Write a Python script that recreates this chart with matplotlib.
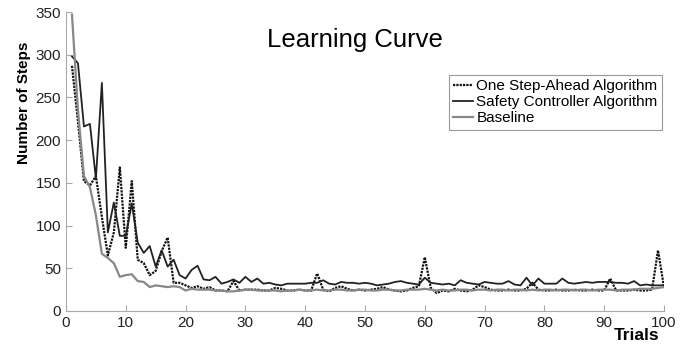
import matplotlib
matplotlib.use('Agg')
import matplotlib.pyplot as plt
import numpy as np

plt.rcParams['font.family'] = ['Liberation Sans', 'DejaVu Sans']

trials = np.arange(1, 101)

one_step = [287, 222, 152, 147, 158, 110, 65, 92, 168, 74,
            152, 60, 56, 42, 47, 70, 86, 33, 33, 30,
            27, 29, 26, 28, 24, 24, 23, 35, 24, 25,
            25, 25, 24, 24, 27, 26, 24, 24, 25, 24,
            24, 44, 25, 23, 27, 29, 26, 24, 25, 24,
            25, 26, 28, 25, 24, 23, 24, 27, 29, 63,
            27, 21, 24, 23, 26, 24, 23, 25, 30, 28,
            25, 24, 24, 25, 24, 24, 26, 33, 25, 24,
            24, 25, 24, 24, 25, 24, 24, 25, 24, 24,
            38, 24, 24, 24, 25, 24, 24, 25, 71, 28]

safety = [298, 290, 216, 219, 155, 267, 92, 127, 88, 88,
          126, 80, 68, 76, 52, 71, 52, 60, 42, 38,
          48, 53, 37, 36, 40, 32, 34, 37, 33, 40,
          34, 38, 32, 33, 31, 30, 32, 32, 32, 32,
          33, 33, 36, 32, 31, 34, 33, 33, 32, 33,
          32, 30, 31, 32, 34, 35, 33, 32, 31, 39,
          33, 32, 31, 32, 30, 36, 33, 32, 31, 34,
          33, 32, 32, 35, 31, 30, 39, 30, 38, 32,
          32, 32, 38, 33, 32, 33, 34, 33, 34, 34,
          34, 33, 33, 32, 35, 30, 31, 30, 30, 30]

baseline = [347, 235, 158, 145, 112, 67, 62, 56, 40, 42,
            43, 35, 34, 28, 30, 29, 28, 29, 28, 24,
            26, 25, 25, 25, 24, 24, 23, 23, 24, 25,
            25, 24, 24, 24, 24, 23, 24, 24, 25, 24,
            24, 25, 24, 24, 25, 25, 24, 24, 25, 25,
            24, 24, 25, 25, 24, 24, 25, 25, 25, 26,
            25, 24, 25, 24, 24, 25, 25, 24, 25, 25,
            24, 25, 25, 24, 25, 25, 24, 25, 24, 25,
            25, 24, 25, 25, 24, 25, 25, 24, 25, 25,
            25, 24, 25, 25, 25, 26, 26, 26, 27, 28]

fig = plt.figure(figsize=(6.96, 3.45), dpi=100)
ax = fig.add_axes([66/696, 1-311/345, (664-66)/696, (311-12)/345])

ax.plot(trials, one_step, color='#111111', lw=1.6, ls=(0, (1, 0.5)),
        label='One Step-Ahead Algorithm')
ax.plot(trials, safety, color='#222222', lw=1.3, label='Safety Controller Algorithm')
ax.plot(trials, baseline, color='#888888', lw=1.6, label='Baseline')

ax.set_xlim(0, 100)
ax.set_ylim(0, 350)
ax.set_xticks(range(0, 101, 10))
ax.set_yticks(range(0, 351, 50))
for s in ['top', 'right']:
    ax.spines[s].set_visible(False)
for s in ['left', 'bottom']:
    ax.spines[s].set_color('#aaaaaa')
ax.tick_params(direction='in', length=4, color='#aaaaaa', labelsize=11,
               labelcolor='#222222')

fig.text(24/696, 1-103/345, 'Number of Steps', rotation=90, ha='center',
         va='center', fontsize=11, fontweight='bold')
fig.text(637/696, 1-336/345, 'Trials', ha='center', va='center',
         fontsize=12.5, fontweight='bold')
fig.text(355/696, 1-40/345, 'Learning Curve', ha='center', va='center',
         fontsize=18.5)

leg = ax.legend(loc='upper right', bbox_to_anchor=(0.997, 0.79), fontsize=11,
                handlelength=1.3, handletextpad=0.2, borderpad=0.3,
                borderaxespad=0, labelspacing=0.12, fancybox=False, framealpha=1)
leg.get_frame().set_edgecolor('#999999')
leg.get_frame().set_linewidth(0.8)

fig.savefig('out.png', dpi=100)
